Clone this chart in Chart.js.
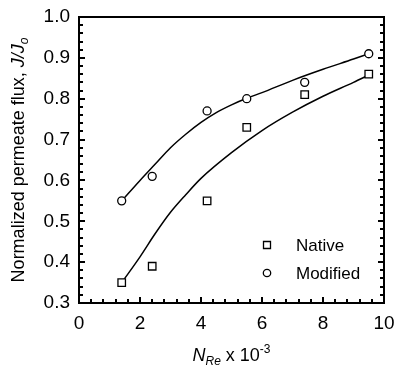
<!DOCTYPE html>
<html>
<head>
<meta charset="utf-8">
<script src="https://cdn.jsdelivr.net/npm/chart.js@4.4.1/dist/chart.umd.min.js"></script>
<style>
  html, body { margin: 0; padding: 0; background: #fff; }
</style>
</head>
<body>
<canvas id="chart" width="395" height="366"></canvas>
<script>
// measured points
const reynolds = [1.4, 2.4, 4.2, 5.5, 7.4, 9.5];
const nativeFlux = [0.35, 0.39, 0.55, 0.73, 0.81, 0.86];
const modifiedFlux = [0.55, 0.61, 0.77, 0.80, 0.84, 0.91];

// fitted curves
const nativeFitX = [1.4, 2, 2.5, 3, 3.5, 4, 5, 6, 7, 8, 9, 9.5];
const nativeFit = [0.35, 0.413, 0.47, 0.522, 0.565, 0.605, 0.668, 0.722, 0.767, 0.806, 0.84, 0.858];
const modifiedFitX = [1.4, 2, 2.5, 3, 3.5, 4, 4.5, 5, 5.5, 6, 7, 8, 9, 9.5];
const modifiedFit = [0.55, 0.6, 0.64, 0.68, 0.713, 0.742, 0.766, 0.785, 0.801, 0.815, 0.845, 0.872, 0.897, 0.91];

const xTicks = [0, 2, 4, 6, 8, 10];
const yTicks = [0.3, 0.4, 0.5, 0.6, 0.7, 0.8, 0.9, 1.0];
const seriesNames = ['Native', 'Modified'];

const FONT = '"Liberation Sans", Arial, Helvetica, sans-serif';

const toPoints = (xs, ys) => xs.map((x, i) => ({ x, y: ys[i] }));

// box around the plot with inward major/minor ticks
const frame = {
  id: 'frame',
  afterDraw(chart) {
    const ctx = chart.ctx;
    const a = chart.chartArea;
    const xs = chart.scales.x;
    const ys = chart.scales.y;
    ctx.save();
    ctx.fillStyle = '#000';
    const L = Math.round(a.left), R = Math.round(a.right);
    const T = Math.round(a.top), B = Math.round(a.bottom);
    ctx.fillRect(L - 1, T - 1, R - L + 2, 2);
    ctx.fillRect(L - 1, B - 1, R - L + 2, 2);
    ctx.fillRect(L - 1, T - 1, 2, B - T + 2);
    ctx.fillRect(R - 1, T - 1, 2, B - T + 2);
    for (let i = 0; i <= 25; i++) {
      const px = Math.round(xs.getPixelForValue(i * 0.4));
      const len = i % 5 === 0 ? 6 : 4;
      ctx.fillRect(px - 1, B - len, 2, len);
    }
    for (let i = 0; i <= 35; i++) {
      const py = Math.round(ys.getPixelForValue(0.3 + i * 0.02));
      const len = i % 5 === 0 ? 6 : 4;
      ctx.fillRect(L, py - 1, len, 2);
      ctx.fillRect(R - len, py - 1, len, 2);
    }
    ctx.restore();
  }
};

// legend and axis titles (italic / sub / superscript parts)
const labels = {
  id: 'labels',
  afterDraw(chart) {
    const ctx = chart.ctx;
    const a = chart.chartArea;
    ctx.save();
    ctx.fillStyle = '#000';
    ctx.strokeStyle = '#000';

    const lx = 267;
    const rows = [245, 273];
    ctx.lineWidth = 1.3;
    ctx.font = '17px ' + FONT;
    ctx.textBaseline = 'middle';
    rows.forEach((ly, i) => {
      ctx.beginPath();
      if (i === 0) {
        ctx.rect(lx - 3.5, ly - 3.5, 7, 7);
      } else {
        ctx.arc(lx, ly, 3.7, 0, Math.PI * 2);
      }
      ctx.stroke();
      ctx.fillText(seriesNames[i], 296, ly + 1);
    });

    ctx.textBaseline = 'alphabetic';
    const yParts = [
      { t: 'Normalized permeate flux, ', f: '18px ' + FONT, dy: 0 },
      { t: 'J/J', f: 'italic 18px ' + FONT, dy: 0 },
      { t: 'o', f: 'italic 12px ' + FONT, dy: 4 }
    ];
    let total = 0;
    yParts.forEach(p => { ctx.font = p.f; p.w = ctx.measureText(p.t).width; total += p.w; });
    ctx.save();
    ctx.translate(24, (a.top + a.bottom) / 2);
    ctx.rotate(-Math.PI / 2);
    let x0 = -total / 2;
    yParts.forEach(p => {
      ctx.font = p.f;
      ctx.fillText(p.t, x0, p.dy);
      x0 += p.w;
    });
    ctx.restore();

    const xParts = [
      { t: 'N', f: 'italic 18px ' + FONT, dy: 0 },
      { t: 'Re', f: 'italic 12px ' + FONT, dy: 4 },
      { t: ' x 10', f: '18px ' + FONT, dy: 0 },
      { t: '-3', f: '12px ' + FONT, dy: -8 }
    ];
    total = 0;
    xParts.forEach(p => { ctx.font = p.f; p.w = ctx.measureText(p.t).width; total += p.w; });
    x0 = (a.left + a.right) / 2 - total / 2;
    xParts.forEach(p => {
      ctx.font = p.f;
      ctx.fillText(p.t, x0, 361 + p.dy);
      x0 += p.w;
    });
    ctx.restore();
  }
};

new Chart(document.getElementById('chart'), {
  type: 'scatter',
  data: {
    datasets: [
      {
        label: seriesNames[0],
        data: toPoints(reynolds, nativeFlux),
        pointStyle: 'rect',
        pointRadius: 5.3,
        borderColor: '#000',
        backgroundColor: '#fff',
        borderWidth: 1.3
      },
      {
        label: seriesNames[1],
        data: toPoints(reynolds, modifiedFlux),
        pointStyle: 'circle',
        pointRadius: 4,
        borderColor: '#000',
        backgroundColor: '#fff',
        borderWidth: 1.3
      },
      {
        label: 'native fit',
        type: 'line',
        data: toPoints(nativeFitX, nativeFit),
        showLine: true,
        pointRadius: 0,
        borderColor: '#000',
        borderWidth: 1.5,
        cubicInterpolationMode: 'monotone',
        fill: false
      },
      {
        label: 'modified fit',
        type: 'line',
        data: toPoints(modifiedFitX, modifiedFit),
        showLine: true,
        pointRadius: 0,
        borderColor: '#000',
        borderWidth: 1.5,
        cubicInterpolationMode: 'monotone',
        fill: false
      }
    ]
  },
  options: {
    responsive: false,
    animation: false,
    layout: { padding: { left: 0, top: 17, right: 11, bottom: 0 } },
    plugins: {
      legend: { display: false },
      tooltip: { enabled: false }
    },
    scales: {
      x: {
        type: 'linear',
        min: 0,
        max: 10,
        afterFit: (s) => { s.height = 63; s.paddingLeft = 0; s.paddingRight = 0; },
        afterBuildTicks: (s) => { s.ticks = xTicks.map(v => ({ value: v })); },
        grid: { display: false, drawTicks: false },
        border: { display: false },
        ticks: {
          color: '#000',
          padding: 9,
          font: { family: FONT, size: 19 },
          maxRotation: 0,
          callback: (v) => String(v)
        }
      },
      y: {
        type: 'linear',
        min: 0.3,
        max: 1.0,
        afterFit: (s) => { s.width = 79; s.paddingTop = 0; s.paddingBottom = 0; },
        afterBuildTicks: (s) => { s.ticks = yTicks.map(v => ({ value: v })); },
        grid: { display: false, drawTicks: false },
        border: { display: false },
        ticks: {
          color: '#000',
          padding: 9,
          font: { family: FONT, size: 19 },
          callback: (v) => Number(v).toFixed(1)
        }
      }
    }
  },
  plugins: [frame, labels]
});
</script>
</body>
</html>
